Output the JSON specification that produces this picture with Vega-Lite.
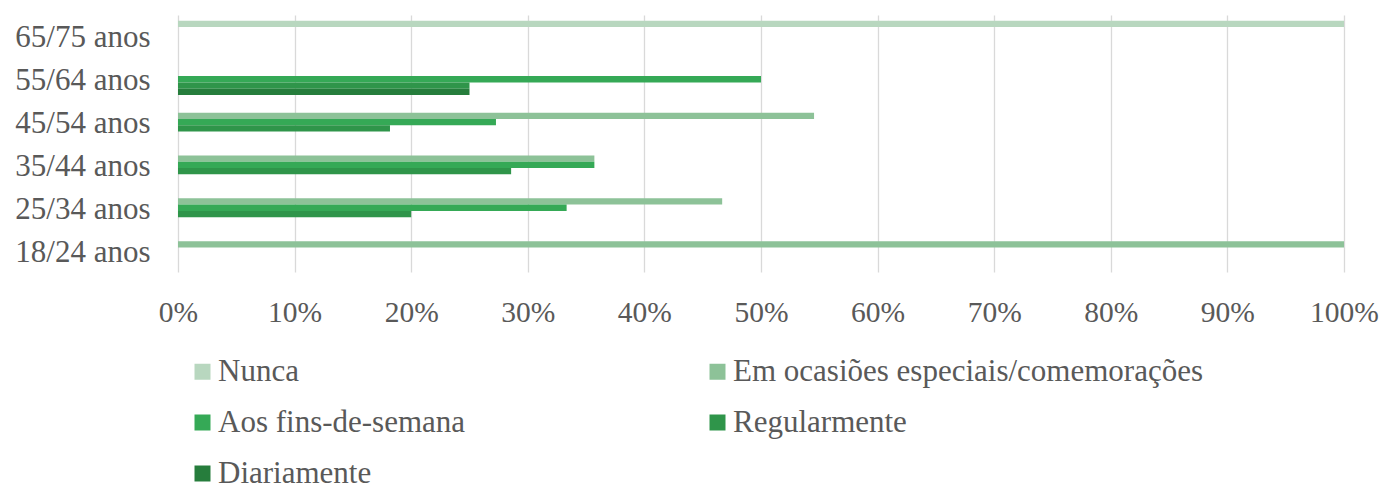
{
  "$schema": "https://vega.github.io/schema/vega-lite/v6.json",
  "width": 1166,
  "height": 257,
  "autosize": "none",
  "padding": {"left": 178, "top": 15, "right": 37, "bottom": 211},
  "background": "white",
  "config": {
    "view": {"stroke": null},
    "font": "Liberation Serif"
  },
  "data": {
    "values": [
      {"idade": "65/75 anos", "serie": "Nunca", "valor": 1.0},
      {"idade": "55/64 anos", "serie": "Aos fins-de-semana", "valor": 0.5},
      {"idade": "55/64 anos", "serie": "Regularmente", "valor": 0.25},
      {"idade": "55/64 anos", "serie": "Diariamente", "valor": 0.25},
      {"idade": "45/54 anos", "serie": "Em ocasiões especiais/comemorações", "valor": 0.5455},
      {"idade": "45/54 anos", "serie": "Aos fins-de-semana", "valor": 0.2727},
      {"idade": "45/54 anos", "serie": "Regularmente", "valor": 0.1818},
      {"idade": "35/44 anos", "serie": "Em ocasiões especiais/comemorações", "valor": 0.3571},
      {"idade": "35/44 anos", "serie": "Aos fins-de-semana", "valor": 0.3571},
      {"idade": "35/44 anos", "serie": "Regularmente", "valor": 0.2857},
      {"idade": "25/34 anos", "serie": "Em ocasiões especiais/comemorações", "valor": 0.4667},
      {"idade": "25/34 anos", "serie": "Aos fins-de-semana", "valor": 0.3333},
      {"idade": "25/34 anos", "serie": "Regularmente", "valor": 0.2},
      {"idade": "18/24 anos", "serie": "Em ocasiões especiais/comemorações", "valor": 1.0}
    ]
  },
  "mark": {"type": "bar"},
  "encoding": {
    "y": {
      "field": "idade",
      "type": "nominal",
      "sort": ["65/75 anos", "55/64 anos", "45/54 anos", "35/44 anos", "25/34 anos", "18/24 anos"],
      "scale": {"paddingInner": 0.264, "paddingOuter": 0.132},
      "axis": {
        "title": null,
        "domain": false,
        "ticks": false,
        "grid": false,
        "labelFont": "Liberation Serif",
        "labelFontSize": 31,
        "labelColor": "#595959",
        "labelPadding": 28,
        "labelOffset": 2
      }
    },
    "yOffset": {
      "field": "serie",
      "type": "nominal",
      "scale": {"domain": ["Nunca", "Em ocasiões especiais/comemorações", "Aos fins-de-semana", "Regularmente", "Diariamente"], "paddingInner": 0, "paddingOuter": 0}
    },
    "x": {
      "field": "valor",
      "type": "quantitative",
      "scale": {"domain": [0, 1]},
      "axis": {
        "title": null,
        "format": ".0%",
        "values": [0, 0.1, 0.2, 0.3, 0.4, 0.5, 0.6, 0.7, 0.8, 0.9, 1.0],
        "domain": false,
        "ticks": false,
        "grid": true,
        "gridColor": "#d9d9d9",
        "gridWidth": 1.3,
        "labelFont": "Liberation Serif",
        "labelFontSize": 29.5,
        "labelColor": "#595959",
        "labelPadding": 26,
        "labelFlush": false
      }
    },
    "color": {
      "field": "serie",
      "type": "nominal",
      "scale": {
        "domain": ["Nunca", "Em ocasiões especiais/comemorações", "Aos fins-de-semana", "Regularmente", "Diariamente"],
        "range": ["#b8d7bf", "#8dc298", "#35a956", "#2f954a", "#267d3c"]
      },
      "legend": {
        "title": null,
        "orient": "none",
        "legendX": 9,
        "legendY": 341,
        "direction": "horizontal",
        "columns": 2,
        "padding": 0,
        "symbolType": "square",
        "symbolSize": 256,
        "symbolStrokeWidth": 0,
        "labelFont": "Liberation Serif",
        "labelFontSize": 31,
        "labelColor": "#595959",
        "labelOffset": 0,
        "rowPadding": 19,
        "columnPadding": 236,
        "labelLimit": 700
      }
    }
  }
}
